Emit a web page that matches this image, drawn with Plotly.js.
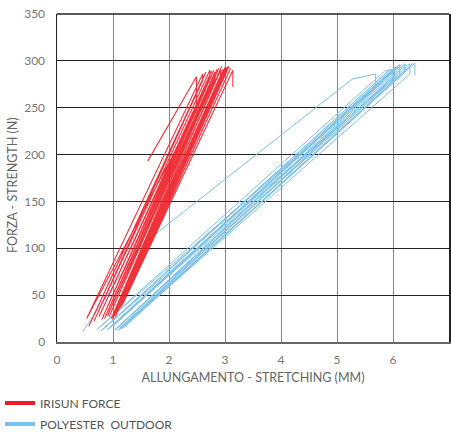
<!DOCTYPE html>
<html>
<head>
<meta charset="utf-8">
<script src="https://cdn.plot.ly/plotly-3.0.1.min.js"></script>
<style>html,body{margin:0;padding:0;background:#fff;}#chart{width:451px;height:433px;}</style>
</head>
<body>
<div id="chart"></div>
<script>
// Series names
const seriesNames = ["IRISUN FORCE", "POLYESTER  OUTDOOR"];

// IRISUN FORCE: elongation (mm) and force (N), cyclic load path
const redX = [1.62, 2.49, 2.49, 0.53, 2.60, 2.60, 0.57, 2.66, 0.66, 2.73, 2.73, 0.75, 2.76, 0.80, 2.80, 0.85,
  2.82, 2.82, 0.90, 2.86, 0.93, 2.89, 0.97, 2.92, 2.92, 0.99, 2.94, 1.01, 2.97, 1.04, 3.00, 3.00,
  1.06, 3.02, 1.09, 3.05, 1.12, 3.07, 1.15, 3.10, 1.18, 3.14, 3.14];
const redY = [193, 283, 247, 25, 286, 279, 17, 288, 22, 290, 282, 27, 289, 24, 290, 25,
  288, 280, 28, 291, 27, 292, 25, 290, 283, 24, 294, 29, 291, 27, 293, 285,
  31, 293, 33, 294, 36, 294, 38, 292, 41, 290, 272];

// POLYESTER OUTDOOR: elongation (mm) and force (N), cyclic load path
const blueX = [0.46, 1.48, 5.27, 5.69, 5.69, 0.73, 5.85, 6.00, 6.00, 0.79, 5.95, 0.85, 6.03, 6.03, 0.90, 6.06,
  0.95, 6.09, 1.00, 6.12, 6.12, 1.03, 6.15, 1.06, 6.21, 6.21, 1.09, 6.23, 1.12, 6.30, 6.30, 1.15, 6.35,
  1.20, 6.39, 6.39];
const blueY = [11, 102, 280.5, 286, 271, 14, 289, 291, 281, 12, 291, 15, 293, 283, 13, 294,
  16, 294, 17, 296, 286, 13, 296, 14, 297, 288, 12, 296, 15, 297, 286, 14, 297,
  16, 297.5, 285];

// Axis ticks
const xTicks = [0, 1, 2, 3, 4, 5, 6, 7];
const yTicks = [0, 50, 100, 150, 200, 250, 300, 350];
const xTitle = "ALLUNGAMENTO - STRETCHING (MM)";
const yTitle = "FORZA - STRENGTH (N)";

const RED = "#ee1c25";
const BLUE = "#7cc0eb";

const traces = [
  {x: blueX, y: blueY, mode: "lines", line: {color: BLUE, width: 1}, showlegend: false, hoverinfo: "skip"},
  {x: redX, y: redY, mode: "lines", line: {color: RED, width: 1.1}, opacity: 0.9, showlegend: false, hoverinfo: "skip"},
  {x: [null], y: [null], mode: "lines", name: seriesNames[0], legendgroup: "a", line: {color: RED, width: 4}},
  {x: [null], y: [null], mode: "lines", name: seriesNames[1], legendgroup: "b", line: {color: BLUE, width: 4}}
];

const layout = {
  width: 451, height: 433,
  margin: {l: 57, r: 2, t: 14, b: 91, pad: 0, autoexpand: false},
  paper_bgcolor: "#fff", plot_bgcolor: "#fff",
  font: {family: "Lato, 'Open Sans', sans-serif", size: 12, color: "#666"},
  showlegend: true,
  legend: {xref: "container", yref: "container", x: 0.0, y: 0.103, xanchor: "left", yanchor: "top",
    orientation: "v", tracegroupgap: 2, font: {size: 12, color: "#555"}, bgcolor: "rgba(0,0,0,0)"},
  xaxis: {range: [0, 7], tickvals: xTicks, ticktext: xTicks.map(String), showgrid: true, automargin: true,
    gridcolor: "#8a8a8a", gridwidth: 1, showline: true, linecolor: "#666", linewidth: 2,
    zeroline: false, ticks: "", ticklabelstandoff: 6, tickfont: {size: 12, color: "#777"},
    title: {text: xTitle, font: {size: 12.5, color: "#666"}, standoff: 7}, fixedrange: true},
  yaxis: {range: [0, 350], tickvals: yTicks, ticktext: yTicks.map(String), showgrid: true, automargin: false,
    gridcolor: "#222", gridwidth: 1, showline: true, linecolor: "#222", linewidth: 1.5, mirror: true,
    zeroline: false, ticks: "", ticklabelstandoff: 8, tickfont: {size: 12, color: "#777"},
    fixedrange: true},
  annotations: [
    {text: yTitle, xref: "paper", yref: "paper", x: -0.112, y: 0.479, xanchor: "center", yanchor: "middle",
      textangle: -90, showarrow: false, font: {size: 12.5, color: "#666"}}
  ],
  shapes: [
    {type: "line", xref: "paper", yref: "paper", x0: 0, x1: 1, y0: 1, y1: 1, line: {color: "#222", width: 1.5}}
  ]
};

Plotly.newPlot("chart", traces, layout, {staticPlot: true, displayModeBar: false});
</script>
</body>
</html>
